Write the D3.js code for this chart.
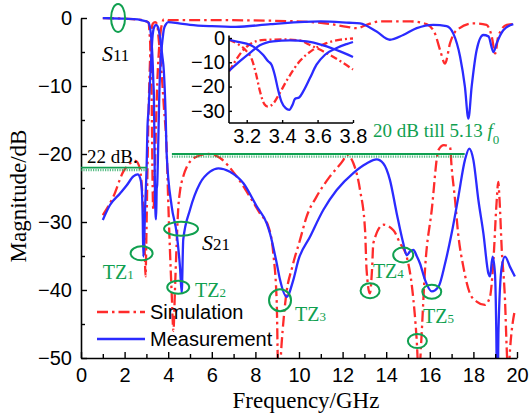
<!DOCTYPE html>
<html>
<head>
<meta charset="utf-8">
<script src="https://cdn.jsdelivr.net/npm/d3@7"></script>
<style>
  body { margin: 0; background: #fff; }
  text { fill: #000; }
</style>
</head>
<body>
<svg id="chart" width="530" height="417"></svg>
<script>
// ---------- data (frequency in GHz, magnitude in dB) ----------
const s11MeasFreq = [1, 2, 2.6, 2.85, 3.0, 3.1, 3.217, 3.292, 3.321, 3.34, 3.358, 3.377, 3.396, 3.42, 3.44, 3.459, 3.472, 3.496, 3.519, 3.557, 3.594, 3.642, 3.708, 3.764, 3.8, 3.9, 4.0, 4.5, 5.0, 6.0, 7.1, 8.7, 11.0, 12.3, 12.8, 13.56, 14.17, 14.78, 15.4, 16.16, 16.77, 17.08, 17.39, 17.61, 17.77, 17.92, 18.15, 18.45, 18.69, 18.92, 19.07, 19.37, 19.83];
const s11MeasDb   = [0, -0.1, -0.2, -0.4, -0.5, -0.7, -2.75, -6.9, -9.6, -11, -15.1, -21.3, -26.2, -28.9, -29.6, -27.5, -25.1, -24.5, -22, -16.5, -11, -6.9, -4.1, -2.5, -1.65, -0.9, -0.6, -0.8, -1.0, -1.2, -1.3, -0.9, -0.5, -0.7, -0.8, -2.0, -3.2, -2.5, -1.5, -1.0, -1.2, -2.3, -5.7, -10.1, -14.8, -10.1, -4.7, -2.5, -2.7, -5.0, -3.7, -1.8, -0.9];

const s11SimFreq = [1, 2, 2.8, 3.0, 3.1, 3.15, 3.2, 3.23, 3.25, 3.275, 3.3, 3.32, 3.35, 3.38, 3.43, 3.5, 3.575, 3.65, 3.73, 3.8, 3.9, 4.0, 5.6, 8.7, 11.0, 12.2, 12.65, 13.1, 13.7, 15.1, 15.85, 16.24, 16.47, 16.7, 16.93, 17.23, 18.0, 18.6, 18.84, 19.0, 19.14, 19.53, 19.83];
const s11SimDb   = [0, -0.1, -0.3, -0.5, -0.7, -2.5, -5.5, -9, -14, -22, -27.3, -28.3, -27, -23.5, -17, -9.5, -4.8, -2.1, -0.7, -0.2, -0.2, -0.3, -0.3, -0.4, -0.7, -1.3, -1.5, -1.0, -0.5, -0.5, -0.9, -2.3, -4.7, -6.7, -3.7, -1.8, -0.8, -1.0, -2.7, -5.2, -2.7, -1.0, -0.9];

const s21MeasFreq = [1.0, 1.33, 1.79, 2.1, 2.4, 2.6, 2.72, 2.78, 2.83, 2.86, 2.9, 2.94, 3.01, 3.05, 3.1, 3.16, 3.217, 3.274, 3.349, 3.443, 3.538, 3.632, 3.727, 3.8, 3.88, 3.93, 4.16, 4.39, 4.54, 4.62, 4.69, 5.0, 5.46, 5.92, 6.3, 6.83, 7.45, 8.06, 8.52, 8.67, 8.98, 9.13, 9.43, 9.74, 9.97, 10.5, 11.12, 11.73, 12.49, 13.1, 13.56, 13.87, 14.17, 14.48, 14.78, 14.94, 15.1, 15.25, 15.4, 15.55, 15.78, 16.09, 16.4, 16.7, 17.0, 17.31, 17.61, 17.81, 18.0, 18.23, 18.46, 18.69, 18.76, 18.88, 18.99, 19.05, 19.1, 19.15, 19.3, 19.45, 19.68, 19.9];
const s21MeasDb   = [-29.7, -27.5, -25.8, -24.6, -23.3, -23.0, -23.6, -24.8, -29.2, -35.1, -32.5, -28, -21.9, -16, -13.5, -9.6, -6.2, -3, -1.4, -1.0, -1.4, -3, -5.5, -7.8, -14, -20, -27.7, -31.7, -36.6, -40.4, -32.6, -28.2, -24.3, -22.6, -22.1, -22.6, -24.3, -27.7, -30.2, -31.7, -36.1, -38.5, -41.0, -38.5, -35.6, -32.2, -28.2, -25.3, -22.8, -21.4, -20.8, -21.4, -23.8, -28.7, -33.1, -34.9, -34.3, -34.1, -35, -36.1, -38.5, -40.2, -39.5, -36.1, -31.7, -26.3, -20.9, -19.2, -20.9, -26.8, -31.7, -37.6, -38.0, -35.1, -37.6, -46, -60, -46, -36.6, -35.1, -36.6, -38];

const s21SimFreq = [1.0, 1.48, 1.94, 2.2, 2.5, 2.7, 2.78, 2.85, 2.92, 2.96, 3.0, 3.05, 3.1, 3.14, 3.18, 3.22, 3.26, 3.3, 3.4, 3.5, 3.555, 3.65, 3.73, 3.8, 3.93, 4.0, 4.08, 4.16, 4.24, 4.31, 4.39, 4.46, 4.54, 4.69, 4.85, 5.3, 5.84, 6.38, 7.14, 7.75, 8.2, 8.6, 8.82, 8.98, 9.06, 9.2, 9.4, 9.7, 10.05, 10.35, 10.8, 11.42, 12.03, 12.19, 12.5, 12.8, 13.03, 13.1, 13.25, 13.35, 13.41, 13.87, 14.33, 14.63, 14.94, 15.2, 15.4, 15.5, 15.6, 15.78, 16.09, 16.4, 16.65, 16.93, 17.0, 17.16, 17.3, 17.54, 17.84, 18.15, 18.53, 18.76, 18.9, 19.07, 19.14, 19.2, 19.3, 19.45, 19.53, 19.6, 19.68, 19.9];
const s21SimDb   = [-29, -26.3, -22.6, -21.5, -21.0, -22.1, -24.3, -28, -34, -38, -32, -22, -13.8, -9, -5, -2.5, -1.2, -0.8, -0.6, -1.0, -2.8, -6.2, -9.6, -13, -19.4, -26.8, -34.1, -40.5, -46, -40, -33, -28, -25.5, -23.3, -21.9, -20.4, -20.0, -20.6, -23.3, -26.3, -28.7, -30.7, -34.6, -42, -55, -48, -41, -36.5, -32.6, -29.2, -26.3, -23.3, -20.9, -20.1, -21.4, -25.3, -31.2, -37, -40.5, -37, -33.1, -30.4, -31.2, -33.1, -35.1, -40, -47.4, -53, -48, -37, -28.2, -19.4, -18.7, -19.0, -21.9, -26.8, -31.7, -36.6, -40.5, -41.7, -42.2, -41, -36.6, -26.8, -24.1, -26.8, -34, -41.5, -48.8, -53, -48.8, -43];

// passband detail (3.1 - 3.8 GHz)
const zoomS11MeasFreq = [3.1, 3.15, 3.217, 3.292, 3.321, 3.34, 3.358, 3.377, 3.396, 3.42, 3.44, 3.459, 3.472, 3.496, 3.519, 3.557, 3.594, 3.642, 3.708, 3.764, 3.8];
const zoomS11MeasDb   = [-0.7, -1.6, -2.75, -6.9, -9.6, -11, -15.1, -21.3, -26.2, -28.9, -29.6, -27.5, -25.1, -24.5, -22, -16.5, -11, -6.9, -4.1, -2.5, -1.65];
const zoomS21MeasFreq = [3.1, 3.16, 3.217, 3.274, 3.349, 3.443, 3.538, 3.632, 3.727, 3.8];
const zoomS21MeasDb   = [-13.5, -9.6, -6.2, -3, -1.4, -1.0, -1.4, -3, -5.5, -7.8];
const zoomS11SimFreq  = [3.1, 3.15, 3.2, 3.23, 3.25, 3.275, 3.3, 3.32, 3.35, 3.38, 3.43, 3.5, 3.575, 3.65, 3.73, 3.8];
const zoomS11SimDb    = [-0.7, -2.5, -5.5, -9, -14, -22, -27.3, -28.3, -27, -23.5, -17, -9.5, -4.8, -2.1, -0.7, -0.2];
const zoomS21SimFreq  = [3.1, 3.14, 3.18, 3.22, 3.26, 3.3, 3.4, 3.5, 3.555, 3.65, 3.73, 3.8];
const zoomS21SimDb    = [-13.8, -9, -5, -2.5, -1.2, -0.8, -0.6, -1.0, -2.8, -6.2, -9.6, -13];

// axis ticks
const xTicks = [0, 2, 4, 6, 8, 10, 12, 14, 16, 18, 20];
const xMinorTicks = [1, 3, 5, 7, 9, 11, 13, 15, 17, 19];
const yTicks = [0, -10, -20, -30, -40, -50];
const yMinorTicks = [-5, -15, -25, -35, -45];
const zoomXTicks = [3.2, 3.4, 3.6, 3.8];
const zoomYTicks = [0, -10, -20, -30];

// annotation levels
const suppression22 = -22;
const suppression20 = -20;

// ---------- drawing ----------
const RED = "#ff2b2b", BLUE = "#2b2bff", GREEN = "#10a050";
const svg = d3.select("#chart");

const x = d3.scaleLinear().domain([0, 20]).range([81, 517]);
const y = d3.scaleLinear().domain([-50, 0]).range([358, 18]);

const pairs = (fs, ds) => fs.map((f, i) => [f, ds[i]]);

svg.append("clipPath").attr("id", "plotClip")
  .append("rect").attr("x", 81).attr("y", 17).attr("width", 437).attr("height", 342);

const mainLine = d3.line().x(d => x(d[0])).y(d => y(d[1])).curve(d3.curveMonotoneX);
const plot = svg.append("g").attr("clip-path", "url(#plotClip)");

function drawSeries(g, lineGen, data, color, dashed, dash) {
  g.append("path").datum(data)
    .attr("fill", "none").attr("stroke", color)
    .attr("stroke-width", 2.3)
    .attr("stroke-linejoin", "round")
    .attr("stroke-dasharray", dashed ? dash : null)
    .attr("d", lineGen);
}

const mainDash = "11,4,2.5,4";
drawSeries(plot, mainLine, pairs(s11SimFreq, s11SimDb), RED, true, mainDash);
drawSeries(plot, mainLine, pairs(s21SimFreq, s21SimDb), RED, true, mainDash);
drawSeries(plot, mainLine, pairs(s11MeasFreq, s11MeasDb), BLUE, false);
drawSeries(plot, mainLine, pairs(s21MeasFreq, s21MeasDb), BLUE, false);

// axes
const fontSans = "'Liberation Sans', Arial, sans-serif";
const fontSerif = "'Liberation Serif', 'Times New Roman', serif";

function styleAxis(g) {
  g.select(".domain").attr("stroke", "#000").attr("stroke-width", 1.6);
  g.selectAll(".tick line").attr("stroke", "#000").attr("stroke-width", 1.4);
  g.selectAll("text").attr("font-family", fontSans).attr("font-size", 20).attr("fill", "#000");
}

const xAxisG = svg.append("g").attr("transform", `translate(0,${y(-50)})`)
  .call(d3.axisBottom(x).tickValues(xTicks).tickSizeInner(-6).tickSizeOuter(0).tickPadding(10).tickFormat(d3.format("d")));
styleAxis(xAxisG);
const xMinorG = svg.append("g").attr("transform", `translate(0,${y(-50)})`)
  .call(d3.axisBottom(x).tickValues(xMinorTicks).tickSizeInner(-4).tickSizeOuter(0).tickFormat(""));
styleAxis(xMinorG);
xMinorG.select(".domain").remove();

const yAxisG = svg.append("g").attr("transform", `translate(${x(0)},0)`)
  .call(d3.axisLeft(y).tickValues(yTicks).tickSizeInner(-6).tickSizeOuter(0).tickPadding(9).tickFormat(d3.format("d")));
styleAxis(yAxisG);
const yMinorG = svg.append("g").attr("transform", `translate(${x(0)},0)`)
  .call(d3.axisLeft(y).tickValues(yMinorTicks).tickSizeInner(-4).tickSizeOuter(0).tickFormat(""));
styleAxis(yMinorG);
yMinorG.select(".domain").remove();

svg.append("text").attr("x", 306).attr("y", 408).attr("text-anchor", "middle")
  .attr("font-family", fontSerif).attr("font-size", 23).text("Frequency/GHz");
svg.append("text").attr("transform", "translate(26,196) rotate(-90)").attr("text-anchor", "middle")
  .attr("font-family", fontSerif).attr("font-size", 23).text("Magnitude/dB");

// ---------- passband detail ----------
const xi = d3.scaleLinear().domain([3.1, 3.8]).range([229, 353]);
const yi = d3.scaleLinear().domain([-35, 0]).range([123, 38]);
svg.append("clipPath").attr("id", "zoomClip")
  .append("rect").attr("x", 229).attr("y", 30).attr("width", 126).attr("height", 94);
const zoomLine = d3.line().x(d => xi(d[0])).y(d => yi(d[1])).curve(d3.curveMonotoneX);
const zg = svg.append("g").attr("clip-path", "url(#zoomClip)");
const zoomDash = "7,3,2,3";
drawSeries(zg, zoomLine, pairs(zoomS11SimFreq, zoomS11SimDb), RED, true, zoomDash);
drawSeries(zg, zoomLine, pairs(zoomS21SimFreq, zoomS21SimDb), RED, true, zoomDash);
drawSeries(zg, zoomLine, pairs(zoomS11MeasFreq, zoomS11MeasDb), BLUE, false);
drawSeries(zg, zoomLine, pairs(zoomS21MeasFreq, zoomS21MeasDb), BLUE, false);

const zxAxis = svg.append("g").attr("transform", `translate(0,${yi(-35)})`)
  .call(d3.axisBottom(xi).tickValues(zoomXTicks).tickSizeInner(-3).tickSizeOuter(0).tickPadding(6).tickFormat(d3.format(".1f")));
styleAxis(zxAxis);
zxAxis.select(".domain").attr("d", `M${xi(3.1)},0H${xi(3.8)}`);
const zyAxis = svg.append("g").attr("transform", `translate(${xi(3.1)},0)`)
  .call(d3.axisLeft(yi).tickValues(zoomYTicks).tickSizeInner(-3).tickSizeOuter(0).tickPadding(4).tickFormat(d3.format("d")));
styleAxis(zyAxis);
zyAxis.select(".domain").attr("d", `M0,${yi(1)}V${yi(-35)}`);

// ---------- legend ----------
const legend = svg.append("g");
legend.append("line").attr("x1", 97).attr("x2", 145).attr("y1", 312).attr("y2", 312)
  .attr("stroke", RED).attr("stroke-width", 2.3).attr("stroke-dasharray", "11,4,2.5,4");
legend.append("text").attr("x", 150).attr("y", 319).attr("font-family", fontSans).attr("font-size", 20).text("Simulation");
legend.append("line").attr("x1", 97).attr("x2", 145).attr("y1", 339).attr("y2", 339)
  .attr("stroke", BLUE).attr("stroke-width", 2.3);
legend.append("text").attr("x", 150).attr("y", 346).attr("font-family", fontSans).attr("font-size", 20).text("Measurement");

// ---------- annotations ----------
const ann = svg.append("g");

function level(f0, f1, db) {
  ann.append("line").attr("x1", x(f0)).attr("x2", x(f1)).attr("y1", y(db)).attr("y2", y(db))
    .attr("stroke", GREEN).attr("stroke-width", 1.8);
  ann.append("line").attr("x1", x(f0)).attr("x2", x(f1)).attr("y1", y(db) + 2.6).attr("y2", y(db) + 2.6)
    .attr("stroke", GREEN).attr("stroke-width", 2.2).attr("stroke-dasharray", "1.2,1.2").attr("opacity", 0.7);
}
level(0, 3.03, suppression22);
level(4.17, 17.6, suppression20);

function ring(f, db, rx, ry) {
  ann.append("ellipse").attr("cx", x(f)).attr("cy", y(db)).attr("rx", rx).attr("ry", ry)
    .attr("fill", "none").attr("stroke", GREEN).attr("stroke-width", 2);
}
ring(1.70, 0, 7, 14);      // S11
ring(2.78, -34.6, 11, 7);  // TZ1
ring(4.59, -31.0, 17, 7);  // S21
ring(4.46, -39.6, 11, 6.5);// TZ2
ring(9.13, -41.5, 11, 11); // TZ3
ring(13.26, -40.1, 9.5, 7.5); // TZ4 simulated
ring(14.78, -34.85, 10, 7.5); // TZ4 measured
ring(16.09, -40.25, 9.5, 7);  // TZ5 measured
ring(15.43, -47.5, 9.5, 7);   // TZ5 simulated

function tzLabel(f, db, idx) {
  const t = ann.append("text").attr("x", x(f)).attr("y", y(db))
    .attr("font-family", fontSerif).attr("font-size", 20).attr("fill", GREEN);
  t.append("tspan").text("TZ").attr("fill", GREEN);
  t.append("tspan").text(idx).attr("font-size", 13).attr("fill", GREEN);
}
tzLabel(1.0, -38.4, "1");
tzLabel(5.23, -41.0, "2");
tzLabel(9.82, -44.6, "3");
tzLabel(13.39, -38.2, "4");
tzLabel(15.69, -44.85, "5");

function sLabel(f, db, idx, color) {
  const t = ann.append("text").attr("x", x(f)).attr("y", y(db)).attr("font-family", fontSerif);
  t.append("tspan").text("S").attr("font-style", "italic").attr("font-size", 22).attr("fill", color);
  t.append("tspan").text(idx).attr("font-size", 17).attr("fill", color);
}
sLabel(0.96, -6.3, "11", "#000");
sLabel(5.55, -34.1, "21", "#000");

ann.append("text").attr("x", 87).attr("y", 163).attr("font-family", fontSerif).attr("font-size", 19)
  .attr("fill", GREEN).text("22 dB.");
const t20 = ann.append("text").attr("x", 373).attr("y", 137).attr("font-family", fontSerif).attr("font-size", 19).attr("fill", GREEN);
t20.append("tspan").text("20 dB till 5.13 ").attr("fill", GREEN);
t20.append("tspan").text("f").attr("font-style", "italic").attr("fill", GREEN);
t20.append("tspan").text("0").attr("font-size", 13).attr("dy", 7).attr("fill", GREEN);
</script>
</body>
</html>
